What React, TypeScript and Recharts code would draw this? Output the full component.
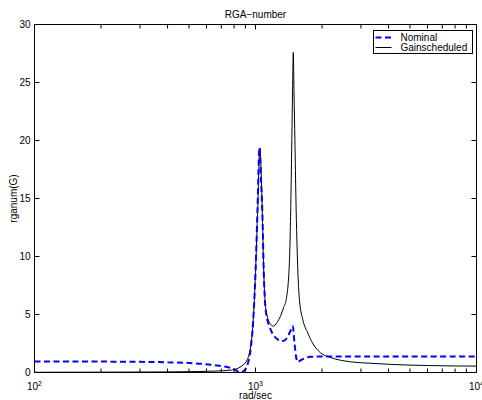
import { LineChart, Line, XAxis, YAxis, Legend, ReferenceArea } from "recharts";

// frequency (rad/sec) and RGA-number
const nominalFreq = [100, 150, 200, 300, 400, 500, 560, 650, 750, 800, 830, 855, 880, 905, 930, 950, 975, 1000, 1022, 1042, 1060, 1075, 1090, 1105, 1130, 1160, 1190, 1250, 1300, 1350, 1400, 1440, 1475, 1500, 1525, 1550, 1600, 1680, 1770, 2000, 4000, 10000];
const nominalRga = [0.95, 0.95, 0.94, 0.92, 0.88, 0.82, 0.76, 0.64, 0.46, 0.3, 0.1, 0.0, 0.1, 0.35, 1.0, 2.0, 4.3, 8.6, 14.3, 19.4, 16.5, 13.5, 8.6, 6.0, 4.6, 3.9, 3.4, 2.9, 2.7, 2.75, 3.1, 3.6, 4.0, 2.6, 1.4, 0.9, 1.05, 1.25, 1.35, 1.38, 1.38, 1.38];

const gainFreq = [100, 200, 300, 400, 500, 550, 650, 770, 840, 885, 905, 930, 950, 975, 1000, 1024, 1046, 1072, 1090, 1110, 1140, 1170, 1202, 1250, 1300, 1340, 1377, 1421, 1446, 1460, 1472, 1482, 1494, 1508, 1524, 1552, 1580, 1640, 1725, 1810, 1968, 2183, 2690, 3300, 4083, 6000, 10000];
const gainRga = [0.02, 0.03, 0.04, 0.05, 0.07, 0.08, 0.12, 0.2, 0.4, 0.7, 0.9, 1.4, 2.2, 4.3, 8.6, 14.3, 19.3, 14.3, 8.6, 5.7, 4.6, 4.15, 4.0, 4.3, 4.9, 5.6, 6.3, 9.15, 14.9, 20, 24.5, 27.6, 24, 20, 14.9, 9.15, 6.3, 4.5, 3.4, 2.55, 1.7, 1.3, 0.92, 0.8, 0.7, 0.6, 0.55];

const seriesNames = ["Nominal", "Gainscheduled"];
const xTicks = [100, 200, 300, 400, 500, 600, 700, 800, 900, 1000, 2000, 3000, 4000, 5000, 6000, 7000, 8000, 9000, 10000];
const decadeTicks = [100, 1000, 10000];
const decadeExp = ["2", "3", "4"];
const yTicks = [0, 5, 10, 15, 20, 25, 30];

const nominalData = nominalFreq.map((f, i) => ({ freq: f, rga: nominalRga[i] }));
const gainData = gainFreq.map((f, i) => ({ freq: f, rga: gainRga[i] }));

const FONT = "'Liberation Sans', Arial, Helvetica, sans-serif";

// MATLAB-style inward ticks; decades get slightly longer marks
function BottomTick(props: any) {
  const x = Number(props.x);
  const y = Number(props.y);
  const i = decadeTicks.indexOf(props.payload.value);
  const len = i >= 0 ? 5 : 4;
  return (
    <g>
      <path d={`M${x},${y}V${y - len}`} stroke="#000" strokeWidth={1} fill="none" />
      {i >= 0 && (
        <text x={x} y={y + 17} textAnchor="middle" fontSize={10} fill="#000" stroke="none" fontFamily={FONT}>
          10<tspan dy={-4} fontSize={7}>{decadeExp[i]}</tspan>
        </text>
      )}
    </g>
  );
}

function TopTick(props: any) {
  const x = Number(props.x);
  const y = Number(props.y);
  const len = decadeTicks.includes(props.payload.value) ? 5 : 4;
  return <path d={`M${x},${y}V${y + len}`} stroke="#000" strokeWidth={1} fill="none" />;
}

function LeftTick(props: any) {
  const x = Number(props.x);
  const y = Number(props.y);
  return (
    <g>
      <path d={`M${x},${y}H${x + 5}`} stroke="#000" strokeWidth={1} fill="none" />
      <text x={x - 4} y={y + 3.5} textAnchor="end" fontSize={10} fill="#000" stroke="none" fontFamily={FONT}>
        {props.payload.value}
      </text>
    </g>
  );
}

function RightTick(props: any) {
  const x = Number(props.x);
  const y = Number(props.y);
  return <path d={`M${x},${y}H${x - 5}`} stroke="#000" strokeWidth={1} fill="none" />;
}

function LegendBox({ payload }: any) {
  const items = (payload ?? [])
    .filter((entry: any) => seriesNames.includes(entry.value))
    .sort((a: any, b: any) => seriesNames.indexOf(a.value) - seriesNames.indexOf(b.value));
  return (
    <svg width={100} height={24} style={{ display: "block" }}>
      <rect x={0.5} y={0.5} width={99} height={23} fill="#fff" stroke="#000" strokeWidth={1} />
      {items.map((entry: any, i: number) => (
        <g key={entry.value}>
          <line
            x1={2.5}
            x2={18.5}
            y1={7.5 + i * 10}
            y2={7.5 + i * 10}
            stroke={entry.color}
            strokeWidth={entry.payload?.strokeWidth ?? 1}
            strokeDasharray={entry.payload?.strokeDasharray}
          />
          <text x={27.5} y={11.1 + i * 10} fontSize={10} fill="#000" fontFamily={FONT}>
            {entry.value}
          </text>
        </g>
      ))}
    </svg>
  );
}

export default function App() {
  return (
    <div style={{ position: "absolute", left: 0, top: 0, width: 482, height: 400, background: "#fff", fontFamily: FONT }}>
      <LineChart width={482} height={400} margin={{ top: 23.5, right: 4.5, bottom: 0, left: 0 }}>
        <XAxis
          dataKey="freq"
          type="number"
          scale="log"
          domain={[100, 10000]}
          allowDataOverflow
          ticks={xTicks}
          interval={0}
          height={27.5}
          tickSize={0}
          tickMargin={0}
          tickLine={false}
          axisLine={false}
          tick={<BottomTick />}
          label={{ value: "rad/sec", position: "insideBottom", offset: 1, fontSize: 10, fill: "#000" }}
        />
        <XAxis
          xAxisId="top"
          orientation="top"
          dataKey="freq"
          type="number"
          scale="log"
          domain={[100, 10000]}
          allowDataOverflow
          ticks={xTicks}
          interval={0}
          height={1}
          tickSize={0}
          tickMargin={0}
          tickLine={false}
          axisLine={false}
          tick={<TopTick />}
          label={{ value: "RGA\u2212number", position: "top", offset: 6, fontSize: 10, fill: "#000" }}
        />
        <YAxis
          type="number"
          domain={[0, 30]}
          allowDataOverflow
          ticks={yTicks}
          interval={0}
          width={34.5}
          tickSize={0}
          tickMargin={0}
          tickLine={false}
          axisLine={false}
          tick={<LeftTick />}
          label={{ value: "rganum(G)", angle: -90, position: "insideLeft", offset: 13, fontSize: 10, fill: "#000", style: { textAnchor: "middle" } }}
        />
        <YAxis
          yAxisId="right"
          orientation="right"
          type="number"
          domain={[0, 30]}
          allowDataOverflow
          ticks={yTicks}
          interval={0}
          width={1}
          tickSize={0}
          tickMargin={0}
          tickLine={false}
          axisLine={false}
          tick={<RightTick />}
        />
        <ReferenceArea
          x1={100}
          x2={10000}
          y1={0}
          y2={30}
          fill="none"
          fillOpacity={0}
          stroke="#000"
          strokeWidth={1}
          ifOverflow="visible"
        />
        <Legend
          layout="vertical"
          align="center"
          verticalAlign="middle"
          wrapperStyle={{ top: 29.5, left: 372.5, width: 100 }}
          content={<LegendBox />}
        />
        <Line
          data={gainData}
          dataKey="rga"
          name="Gainscheduled"
          type="monotone"
          stroke="#000"
          strokeWidth={1}
          dot={false}
          activeDot={false}
          isAnimationActive={false}
        />
        <Line
          data={nominalData}
          dataKey="rga"
          name="Nominal"
          type="monotone"
          stroke="#0000ff"
          strokeWidth={2}
          strokeDasharray="6 3.5"
          dot={false}
          activeDot={false}
          isAnimationActive={false}
        />
        {/* invisible copy so the mirrored top/right axes get laid out */}
        <Line
          data={gainData}
          xAxisId="top"
          yAxisId="right"
          dataKey="rga"
          name="axes"
          legendType="none"
          stroke="none"
          dot={false}
          activeDot={false}
          isAnimationActive={false}
        />
      </LineChart>
    </div>
  );
}
